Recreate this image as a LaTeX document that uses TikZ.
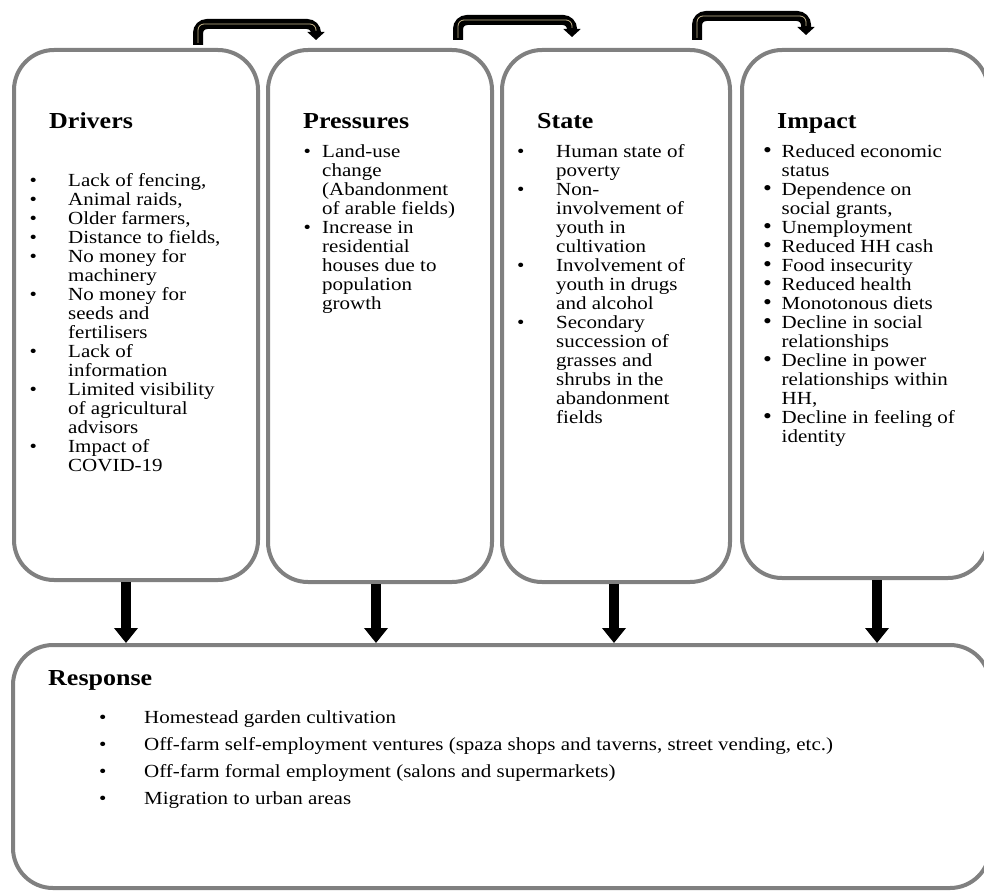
\documentclass[tikz,border=0pt]{standalone}
\usepackage{fontspec}
\setmainfont{Liberation Serif}
\usepackage{graphicx}
\usetikzlibrary{arrows.meta,calc}
\definecolor{boxgray}{HTML}{808080}
\definecolor{arrowtan}{HTML}{C9B98F}
\newcommand{\bul}{\textbullet}
\newcommand{\bigbul}{\raisebox{-0.2pt}{\scalebox{1.2}{\textbullet}}}
% text in this figure is set slightly flattened
\newcommand{\squash}[1]{\scalebox{1}[0.88]{#1}}
\begin{document}
\begin{tikzpicture}[x=1pt,y=-1pt,
  panel/.style={draw=boxgray,line width=4pt,rounded corners=40pt,fill=white,
    inner sep=0pt},
  heading/.style={anchor=base west,inner sep=0pt,
    font=\fontsize{26}{30}\selectfont\bfseries},
  itemlist/.style={anchor=base west,inner sep=0pt,
    font=\fontsize{21}{21.6}\selectfont},
  resplist/.style={anchor=base west,inner sep=0pt,
    font=\fontsize{21}{30.7}\selectfont},
  downarrow/.style={line width=10pt,-{Triangle[width=23pt,length=15pt]}},
  bentarrow/.style={line width=10pt,rounded corners=9pt,
    -{Triangle[width=17pt,length=8pt]}},
  bentinner/.style={draw=arrowtan,line width=0.8pt,rounded corners=6pt}]
\useasboundingbox (0,0) rectangle (984,891);
\clip (0,0) rectangle (984,891);

% the five panels
\node[panel,minimum width=244pt,minimum height=530pt] (drv) at (136,315) {};
\node[panel,minimum width=224pt,minimum height=532pt] (prs) at (380,316) {};
\node[panel,minimum width=228pt,minimum height=532pt] (ste) at (616,316) {};
\node[panel,minimum width=246pt,minimum height=528pt] (imp) at (865,314) {};
\node[panel,minimum width=977pt,minimum height=243pt] (rsp) at (501.5,766.5) {};

% headings
\node[heading] (drvh) at (49,128) {\squash{Drivers}};
\node[heading] (prsh) at (303,128) {\squash{Pressures}};
\node[heading] (steh) at (537,128) {\squash{State}};
\node[heading] (imph) at (777,128) {\squash{Impact}};
\node[heading] (rsph) at (48,685) {\squash{Response}};

% bullet lists
\node[itemlist] (drvl) at (29.5,186) {\squash{\begin{tabular}[t]{@{}p{38.5pt}@{}l@{}}
\bul & Lack of fencing,\\
\bul & Animal raids,\\
\bul & Older farmers,\\
\bul & Distance to fields,\\
\bul & No money for\\
     & machinery\\
\bul & No money for\\
     & seeds and\\
     & fertilisers\\
\bul & Lack of\\
     & information\\
\bul & Limited visibility\\
     & of agricultural\\
     & advisors\\
\bul & Impact of\\
     & COVID-19
\end{tabular}}};

\node[itemlist] (prsl) at (303.5,157) {\squash{\begin{tabular}[t]{@{}p{18.5pt}@{}l@{}}
\bul & Land-use\\
     & change\\
     & (Abandonment\\
     & of arable fields)\\
\bul & Increase in\\
     & residential\\
     & houses due to\\
     & population\\
     & growth
\end{tabular}}};

\node[itemlist] (stel) at (517,157) {\squash{\begin{tabular}[t]{@{}p{39pt}@{}l@{}}
\bul & Human state of\\
     & poverty\\
\bul & Non-\\
     & involvement of\\
     & youth in\\
     & cultivation\\
\bul & Involvement of\\
     & youth in drugs\\
     & and alcohol\\
\bul & Secondary\\
     & succession of\\
     & grasses and\\
     & shrubs in the\\
     & abandonment\\
     & fields
\end{tabular}}};

\node[itemlist] (impl) at (763,157) {\squash{\begin{tabular}[t]{@{}p{18.5pt}@{}l@{}}
\bigbul & Reduced economic\\
        & status\\
\bigbul & Dependence on\\
        & social grants,\\
\bigbul & Unemployment\\
\bigbul & Reduced HH cash\\
\bigbul & Food insecurity\\
\bigbul & Reduced health\\
\bigbul & Monotonous diets\\
\bigbul & Decline in social\\
        & relationships\\
\bigbul & Decline in power\\
        & relationships within\\
        & HH,\\
\bigbul & Decline in feeling of\\
        & identity
\end{tabular}}};

\node[resplist] (rspl) at (99,723) {\squash{\begin{tabular}[t]{@{}p{45pt}@{}l@{}}
\bul & Homestead garden cultivation\\
\bul & Off-farm self-employment ventures (spaza shops and taverns, street vending, etc.)\\
\bul & Off-farm formal employment (salons and supermarkets)\\
\bul & Migration to urban areas
\end{tabular}}};

% x positions of the arrows
\coordinate (d1) at (126,0);
\coordinate (d2) at (376,0);
\coordinate (d3) at (614,0);
\coordinate (d4) at (877,0);
\coordinate (t1) at (198,24);
\coordinate (t2) at (458,20);
\coordinate (t3) at (697,16);
\coordinate (tip1) at (316,40);
\coordinate (tip2) at (572,37);
\coordinate (tip3) at (806,35);

% arrows down into the response panel
\draw[downarrow] (drv.south -| d1) -- (rsp.north -| d1);
\draw[downarrow] (prs.south -| d2) -- (rsp.north -| d2);
\draw[downarrow] (ste.south -| d3) -- (rsp.north -| d3);
\draw[downarrow] (imp.south -| d4) -- (rsp.north -| d4);

% bent arrows linking the top row
\draw[bentarrow,shorten <=3pt] (drv.north -| t1) |- (tip1 |- t1) -- (tip1);
\draw[bentarrow,shorten <=8pt] (prs.north -| t2) |- (tip2 |- t2) -- (tip2);
\draw[bentarrow,shorten <=8pt] (ste.north -| t3) |- (tip3 |- t3) -- (tip3);
\draw[bentinner,shorten <=5pt,shorten >=9pt] (drv.north -| t1) |- (tip1 |- t1) -- (tip1);
\draw[bentinner,shorten <=10pt,shorten >=9pt] (prs.north -| t2) |- (tip2 |- t2) -- (tip2);
\draw[bentinner,shorten <=10pt,shorten >=9pt] (ste.north -| t3) |- (tip3 |- t3) -- (tip3);
\end{tikzpicture}
\end{document}
